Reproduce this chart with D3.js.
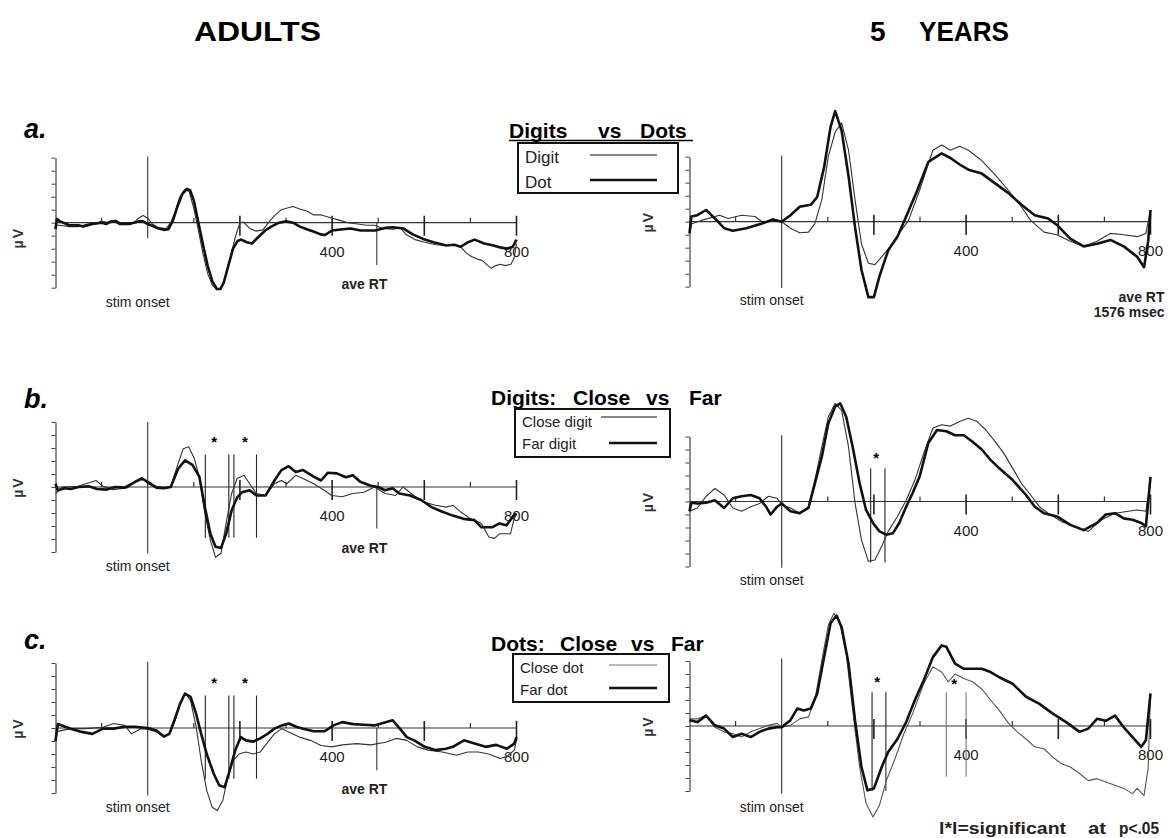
<!DOCTYPE html>
<html>
<head>
<meta charset="utf-8">
<script src="https://cdn.jsdelivr.net/npm/d3@7"></script>
<style>
  body { margin: 0; background: #fff; }
  svg { display: block; font-family: "Liberation Sans", Arial, Helvetica, sans-serif; }
</style>
</head>
<body>
<svg id="chart" width="1176" height="838"></svg>
<script>
// ERP waveforms, [ms, microvolt-ticks]
var adultDigit = [[-200,-0.2],[-190,-0.2],[-170,-0.3],[-150,-0.3],[-130,-0.1],[-110,0.0],[-100,0.1],[-80,0.0],[-70,0.2],[-60,0.0],[-45,-0.1],[-30,0.0],[-20,0.35],[-10,0.55],[0,0.35],[10,-0.1],[25,-0.4],[40,-0.45],[50,0.0],[60,0.9],[70,2.0],[80,2.55],[90,2.4],[100,1.1],[110,-0.6],[120,-2.4],[130,-3.9],[140,-4.8],[150,-5.15],[160,-5.0],[170,-4.0],[180,-2.6],[190,-1.1],[200,0.0],[208,0.05],[220,-0.4],[235,-0.65],[250,-0.55],[262,0.0],[275,0.55],[290,1.0],[305,1.15],[315,1.25],[330,1.05],[345,0.9],[360,0.6],[377,0.6],[395,0.4],[415,0.2],[435,0.0],[455,-0.1],[475,-0.2],[493,-0.2],[510,-0.45],[532,-0.5],[548,-0.4],[560,-0.9],[580,-1.3],[601,-1.5],[625,-1.7],[648,-1.75],[665,-1.7],[680,-1.9],[690,-2.3],[702,-2.6],[715,-2.8],[725,-2.9],[735,-3.2],[745,-3.5],[755,-3.3],[765,-3.2],[775,-3.3],[788,-3.2],[795,-2.7],[800,-1.6]];
var adultDot = [[-200,-0.5],[-197,0.3],[-190,0.1],[-170,-0.2],[-150,-0.2],[-140,-0.3],[-120,-0.1],[-100,0.0],[-90,-0.1],[-80,0.1],[-70,0.1],[-60,-0.1],[-40,-0.1],[-20,0.1],[-10,0.1],[0,-0.1],[20,-0.4],[35,-0.55],[45,-0.5],[55,0.2],[65,1.3],[75,2.2],[85,2.6],[92,2.5],[100,1.7],[110,0.0],[120,-1.7],[130,-3.3],[140,-4.5],[150,-5.1],[158,-5.1],[165,-4.6],[175,-3.3],[185,-2.0],[195,-1.4],[203,-1.3],[215,-1.5],[226,-1.6],[240,-1.1],[255,-0.6],[268,-0.3],[285,0.0],[300,0.1],[315,0.0],[330,-0.3],[345,-0.5],[361,-0.7],[375,-0.9],[384,-0.95],[400,-0.6],[423,-0.5],[440,-0.45],[462,-0.6],[493,-0.6],[515,-0.4],[532,-0.35],[555,-0.45],[575,-0.9],[601,-1.3],[620,-1.5],[648,-1.75],[665,-1.7],[679,-1.85],[695,-1.5],[709,-1.3],[730,-1.6],[750,-1.75],[765,-1.9],[780,-2.0],[792,-1.85],[800,-1.3]];
var childDigit = [[-200,-0.9],[-195,-0.15],[-174,0.1],[-135,0.5],[-116,0.25],[-87,0.5],[-58,0.4],[-39,-0.1],[-19,0.25],[0,0.0],[19,-0.5],[39,-0.85],[58,-0.8],[72,-0.15],[87,1.7],[101,5.0],[116,6.9],[130,7.6],[145,5.5],[159,1.7],[173,-1.7],[188,-3.2],[202,-3.3],[217,-2.7],[236,-1.9],[255,-0.9],[275,0.1],[299,2.4],[328,5.5],[347,5.9],[366,5.5],[386,5.8],[405,5.5],[434,4.7],[463,3.6],[492,2.4],[520,1.15],[540,0.1],[569,-0.8],[597,-1.0],[626,-1.5],[655,-1.9],[684,-1.5],[713,-0.9],[742,-1.0],[771,-1.15],[790,-0.9],[800,0.9]];
var childDot = [[-200,-0.9],[-196,0.4],[-183,0.5],[-164,0.9],[-145,0.25],[-125,-0.5],[-106,-0.7],[-77,-0.5],[-48,-0.2],[-19,0.15],[0,0.0],[19,0.5],[39,1.15],[63,1.3],[77,1.9],[92,4.2],[106,7.3],[116,8.5],[130,7.0],[145,3.5],[159,-0.4],[173,-3.7],[188,-5.8],[200,-5.8],[212,-4.2],[231,-2.2],[251,-1.15],[270,0.4],[294,2.4],[318,4.6],[347,5.25],[366,4.9],[386,4.4],[405,4.0],[434,3.7],[463,2.95],[492,2.2],[520,1.3],[549,0.5],[578,0.25],[597,-0.25],[626,-1.3],[655,-1.9],[684,-1.7],[713,-1.4],[742,-1.9],[771,-2.7],[786,-3.5],[795,-1.5],[800,0.9]];

var adultCloseDigit = [[-200,-0.5],[-185,0.0],[-151,0.05],[-112,0.5],[-97,0.05],[-74,-0.2],[-43,-0.05],[-23,0.5],[-12,0.75],[0,0.25],[19,0.05],[35,-0.05],[50,0.05],[66,1.8],[77,2.95],[89,3.1],[101,2.2],[112,0.75],[124,-2.05],[136,-4.1],[147,-5.4],[159,-5.1],[170,-2.8],[182,-0.5],[194,0.65],[209,0.9],[221,0.25],[236,-0.5],[256,-0.65],[275,0.25],[290,0.5],[302,0.25],[321,0.9],[337,0.65],[360,0.25],[383,-0.25],[399,-0.65],[422,-0.75],[445,-0.5],[469,-0.4],[492,0.0],[515,-0.5],[538,-0.65],[554,0.0],[577,-0.65],[600,-1.15],[624,-1.4],[647,-1.55],[662,-1.4],[678,-1.9],[701,-2.45],[724,-2.8],[740,-3.85],[752,-3.95],[763,-3.6],[787,-3.6],[794,-2.55],[800,-2.05]];
var adultFarDigit = [[-200,0.25],[-195,-0.25],[-180,-0.1],[-167,-0.15],[-150,0.0],[-128,0.05],[-110,-0.15],[-89,-0.2],[-70,0.0],[-50,-0.05],[-27,0.4],[-12,0.65],[0,0.4],[19,-0.05],[35,-0.1],[50,0.0],[66,1.4],[81,2.05],[97,1.7],[112,0.8],[124,-1.55],[136,-3.6],[147,-4.6],[159,-4.7],[170,-3.6],[182,-1.8],[194,-0.8],[205,-0.4],[221,-0.25],[236,-0.65],[256,-0.65],[275,0.5],[290,1.3],[306,1.6],[321,1.15],[337,1.3],[360,0.8],[376,0.5],[391,1.1],[410,1.05],[430,0.75],[445,0.9],[461,0.4],[484,0.1],[500,0.0],[515,-0.25],[531,-0.1],[546,-0.5],[569,-0.65],[593,-1.0],[616,-1.55],[639,-1.9],[662,-2.2],[685,-2.45],[709,-2.55],[724,-3.1],[747,-3.1],[763,-2.8],[778,-2.95],[794,-2.2],[800,-2.05]];
var childCloseDigit = [[-200,-0.75],[-183,-0.5],[-164,0.4],[-145,1.0],[-125,0.5],[-106,-0.5],[-87,-0.75],[-67,-0.4],[-48,-0.15],[-29,0.4],[-10,0.25],[0,-0.25],[19,-0.5],[39,-0.9],[58,-0.4],[72,1.65],[87,4.2],[101,6.5],[116,7.55],[130,7.0],[145,4.2],[159,-0.1],[173,-2.95],[188,-4.6],[202,-4.5],[217,-3.45],[231,-2.3],[251,-1.15],[270,0.1],[289,1.65],[308,3.7],[328,5.65],[347,5.9],[366,5.8],[386,6.15],[405,6.4],[424,6.15],[443,5.5],[463,4.6],[482,3.7],[501,2.55],[520,1.4],[540,0.5],[559,-0.4],[578,-0.9],[607,-1.55],[636,-1.9],[665,-2.3],[694,-1.4],[723,-0.9],[752,-0.75],[771,-0.65],[790,-0.75],[800,1.4]];
var childFarDigit = [[-200,-0.75],[-196,-0.1],[-183,-0.15],[-164,-0.1],[-145,0.1],[-125,-0.5],[-106,0.25],[-87,0.4],[-67,0.5],[-48,0.25],[-34,-0.4],[-24,-1.0],[-10,-0.4],[0,-0.15],[19,-0.75],[39,-0.9],[58,-0.5],[72,1.4],[87,3.45],[101,6.0],[116,7.3],[127,7.55],[140,6.5],[154,4.2],[169,1.4],[183,-0.65],[198,-1.65],[212,-2.3],[227,-2.55],[241,-2.45],[255,-1.65],[270,-0.4],[284,0.65],[299,1.9],[318,4.5],[337,5.5],[357,5.4],[376,5.1],[395,5.1],[414,4.6],[434,4.0],[453,3.2],[472,2.55],[501,1.65],[530,0.5],[549,-0.4],[569,-0.9],[597,-1.15],[626,-1.8],[655,-2.2],[684,-1.65],[703,-1.0],[723,-0.9],[742,-1.3],[761,-1.4],[780,-1.65],[790,-1.9],[800,1.9]];

var adultCloseDot = [[-200,-0.3],[-167,-0.05],[-136,-0.05],[-97,0.05],[-74,0.35],[-50,0.2],[-35,-0.45],[-15,-0.05],[0,-0.1],[19,-0.3],[35,-0.7],[47,-0.45],[58,0.45],[70,1.75],[81,2.7],[93,2.1],[105,0.1],[116,-2.5],[128,-4.8],[140,-6.1],[151,-6.35],[163,-5.55],[174,-3.75],[186,-2.5],[198,-2.0],[213,-1.85],[229,-2.0],[244,-1.85],[260,-1.1],[275,-0.45],[291,-0.05],[306,-0.3],[329,-0.7],[353,-0.95],[376,-1.35],[399,-1.45],[422,-1.3],[453,-1.2],[484,-1.3],[516,-1.1],[539,-0.8],[562,-0.95],[585,-1.45],[608,-1.7],[639,-1.85],[670,-2.1],[694,-1.85],[717,-1.85],[740,-2.0],[764,-2.35],[779,-2.2],[795,-1.7],[800,-0.95]];
var adultFarDot = [[-200,-1.0],[-195,0.3],[-167,-0.05],[-143,-0.3],[-120,-0.45],[-97,-0.05],[-74,-0.05],[-50,0.1],[-27,0.1],[0,0.0],[19,-0.2],[35,-0.65],[47,-0.45],[58,0.6],[70,1.85],[81,2.65],[93,2.4],[105,1.1],[116,-0.45],[128,-2.0],[143,-3.5],[155,-4.4],[167,-4.55],[178,-3.25],[190,-1.7],[202,-0.7],[213,-0.95],[229,-1.05],[244,-0.8],[260,-0.45],[275,-0.05],[291,0.2],[306,0.35],[322,0.1],[337,-0.05],[360,-0.25],[384,-0.25],[403,0.2],[422,0.45],[446,0.3],[469,0.25],[492,0.2],[516,0.45],[531,0.6],[547,-0.05],[562,-0.7],[578,-0.95],[601,-1.45],[624,-1.7],[647,-1.6],[662,-1.45],[686,-0.95],[709,-1.2],[733,-1.45],[756,-1.3],[779,-1.6],[795,-1.2],[800,-0.7]];
var childCloseDot = [[-200,0.55],[-183,0.55],[-164,0.8],[-145,-0.1],[-125,-0.45],[-106,-0.6],[-87,-0.85],[-67,-0.45],[-48,-0.2],[-29,0.05],[-10,0.2],[0,-0.1],[19,0.05],[39,0.55],[58,0.7],[72,2.0],[87,5.05],[101,7.75],[113,8.65],[125,8.1],[140,5.55],[154,1.2],[169,-3.15],[183,-5.95],[198,-7.0],[212,-6.1],[227,-4.2],[246,-2.5],[265,-0.6],[284,0.95],[308,3.25],[328,4.55],[347,4.15],[361,3.4],[376,4.0],[395,3.65],[414,3.4],[434,2.85],[453,2.0],[472,1.2],[492,0.2],[511,-0.45],[530,-1.0],[549,-1.6],[569,-1.75],[588,-2.4],[607,-2.9],[626,-3.15],[646,-3.65],[665,-4.2],[684,-4.05],[703,-4.3],[723,-4.55],[742,-4.8],[761,-5.2],[771,-4.8],[786,-5.35],[795,-3.2],[800,2.5]];
var childFarDot = [[-200,0.45],[-183,0.3],[-164,0.8],[-145,0.05],[-125,-0.2],[-106,-0.85],[-87,-0.6],[-67,-0.85],[-48,-0.45],[-29,-0.2],[-10,-0.1],[0,-0.1],[19,0.45],[34,1.35],[48,1.2],[63,1.35],[77,2.5],[92,5.3],[106,7.9],[119,8.5],[130,7.6],[145,4.8],[159,0.45],[173,-3.15],[186,-4.95],[200,-4.8],[217,-3.15],[231,-2.0],[251,-1.0],[270,0.3],[289,2.0],[308,3.5],[328,5.3],[347,6.2],[357,6.1],[376,4.8],[395,4.4],[414,4.4],[434,4.4],[453,4.15],[472,3.75],[501,3.25],[530,2.25],[559,1.7],[588,0.95],[617,0.3],[646,-0.45],[665,-0.2],[684,0.55],[703,0.4],[723,0.8],[742,-0.1],[761,-0.85],[780,-1.6],[790,-1.1],[800,2.5]];

// axis ticks and labels
var yTicks = [-5, -4, -3, -2, -1, 0, 1, 2, 3, 4, 5];
var majorTicks = [200, 400, 600, 800];
var minorTicks = [-100, 100, 300, 500, 700];
var xLabels = [400, 800];
var aveRTms = 497;

// significance windows (ms) and stars [ms, uV]
var adultSig = [125, 176, 187, 236];
var adultStars = [[144, 3.6], [211, 3.6]];
var childDigitSig = [193, 224];
var childDigitStars = [[205, 3.5]];
var childDotSig = [196, 226, 357, 400];
var childDotStars = [[207, 3.55], [374, 3.4]];

var svg = d3.select("#chart");
var plotW = 461, unit = 13;
var x = d3.scaleLinear().domain([-200, 800]).range([0, plotW]);
var y = d3.scaleLinear().domain([-5, 5]).range([5 * unit, -5 * unit]);
var line = d3.line().x(d => x(d[0])).y(d => y(d[1]));

var panels = [
  {x0: 55.5, y0: 222.7, thin: adultDigit, thick: adultDot, onset: [5.1, -1.2], adult: true, uvDy: 15, aveLine: -3.25},
  {x0: 689.5, y0: 221.7, thin: childDigit, thick: childDot, onset: [5.1, -5.1], adult: false, uvDy: 0, rtText: true},
  {x0: 55.5, y0: 487, thin: adultCloseDigit, thick: adultFarDigit, onset: [5.0, -5.1], adult: true, uvDy: 0, aveLine: -3.2,
   sig: adultSig, sigSpan: [2.5, -3.9], stars: adultStars},
  {x0: 689.5, y0: 501.5, thin: childCloseDigit, thick: childFarDigit, onset: [5.1, -5.1], adult: false, uvDy: 0,
   sig: childDigitSig, sigSpan: [2.55, -4.7], stars: childDigitStars},
  {x0: 55.5, y0: 728, thin: adultCloseDot, thick: adultFarDot, onset: [5.1, -5.2], adult: true, uvDy: 0, aveLine: -3.25,
   sig: adultSig, sigSpan: [2.5, -3.9], stars: adultStars},
  {x0: 689.5, y0: 726, thin: childCloseDot, thick: childFarDot, onset: [5.2, -5.2], adult: false, uvDy: 0,
   sig: childDotSig, sigSpan: [2.6, -5.0], sigSpan2: [2.6, -3.9], stars: childDotStars, thinColor: "#555"}
];

panels.forEach(drawPanel);

function drawPanel(p) {
  var g = svg.append("g").attr("transform", `translate(${p.x0},${p.y0})`);

  // y axis
  var ya = g.append("g").call(d3.axisLeft(y).tickValues(yTicks).tickSize(4).tickSizeOuter(0).tickFormat(""));
  ya.select(".domain").attr("stroke", "#444").attr("stroke-width", 1.2);
  ya.selectAll(".tick line").attr("stroke", "#444");

  // zero line
  g.append("line").attr("x1", x(-200)).attr("x2", x(800)).attr("y1", y(0)).attr("y2", y(0))
    .attr("stroke", "#333").attr("stroke-width", 1.2);

  g.selectAll(".minor").data(minorTicks).enter().append("line")
    .attr("x1", d => x(d)).attr("x2", d => x(d)).attr("y1", -5).attr("y2", 0)
    .attr("stroke", "#333").attr("stroke-width", 1.2);
  g.selectAll(".major").data(majorTicks).enter().append("line")
    .attr("x1", d => x(d)).attr("x2", d => x(d)).attr("y1", -7).attr("y2", 13)
    .attr("stroke", "#222").attr("stroke-width", 1.6);
  g.selectAll(".xlab").data(xLabels).enter().append("text")
    .attr("x", d => x(d)).attr("y", 34).attr("text-anchor", "middle")
    .attr("font-size", 15).attr("fill", "#222").text(d => d);

  // stim onset
  g.append("line").attr("x1", x(0)).attr("x2", x(0)).attr("y1", y(p.onset[0])).attr("y2", y(p.onset[1]))
    .attr("stroke", "#333").attr("stroke-width", 1.1);
  g.append("text").attr("x", x(0) - 10).attr("y", p.adult ? 84 : (p.sigSpan2 ? 86 : 83))
    .attr("text-anchor", "middle").attr("font-size", 14).attr("fill", "#222").text("stim onset");

  // μV label
  g.append("text").attr("transform", `translate(${p.adult ? -37 : -41},${p.uvDy}) rotate(-90)`)
    .attr("text-anchor", "middle").attr("dy", "0.35em").attr("font-size", 14).attr("font-weight", "bold")
    .attr("letter-spacing", 2).attr("fill", "#333").text("µV");

  if (p.adult) {
    g.append("line").attr("x1", x(aveRTms)).attr("x2", x(aveRTms)).attr("y1", y(0)).attr("y2", y(p.aveLine))
      .attr("stroke", "#333").attr("stroke-width", 1.1);
    g.append("text").attr("x", x(470)).attr("y", 66).attr("text-anchor", "middle")
      .attr("font-size", 14).attr("font-weight", "bold").attr("fill", "#222").text("ave RT");
  }
  if (p.rtText) {
    g.append("text").attr("x", plotW + 14).attr("y", 80).attr("text-anchor", "end")
      .attr("font-size", 14).attr("font-weight", "bold").attr("fill", "#222").text("ave RT");
    g.append("text").attr("x", plotW + 14).attr("y", 95).attr("text-anchor", "end")
      .attr("font-size", 14).attr("font-weight", "bold").attr("fill", "#222").text("1576 msec");
  }

  // significance windows
  if (p.sig) {
    g.selectAll(".sig").data(p.sig).enter().append("line")
      .attr("x1", d => x(d)).attr("x2", d => x(d))
      .attr("y1", (d, i) => y((p.sigSpan2 && i > 1 ? p.sigSpan2 : p.sigSpan)[0]))
      .attr("y2", (d, i) => y((p.sigSpan2 && i > 1 ? p.sigSpan2 : p.sigSpan)[1]))
      .attr("stroke", (d, i) => p.sigSpan2 && i > 1 ? "#777" : "#222").attr("stroke-width", 1.1);
    g.selectAll(".star").data(p.stars).enter().append("text")
      .attr("x", d => x(d[0])).attr("y", d => y(d[1]) + 7).attr("text-anchor", "middle")
      .attr("font-size", 15).attr("font-weight", "bold").text("*");
  }

  // waveforms
  g.append("path").datum(p.thin).attr("d", line).attr("fill", "none")
    .attr("stroke", p.thinColor || "#333").attr("stroke-width", 1.1).attr("stroke-linejoin", "round");
  g.append("path").datum(p.thick).attr("d", line).attr("fill", "none")
    .attr("stroke", "#111").attr("stroke-width", 2.6).attr("stroke-linejoin", "round");
}

// column titles
svg.append("text").attr("x", 194).attr("y", 41).attr("font-size", 28).attr("font-weight", "bold")
  .attr("textLength", 127).attr("lengthAdjust", "spacingAndGlyphs").text("ADULTS");
svg.append("text").attr("x", 870).attr("y", 41).attr("font-size", 28).attr("font-weight", "bold").text("5");
svg.append("text").attr("x", 919).attr("y", 41).attr("font-size", 28).attr("font-weight", "bold")
  .attr("textLength", 90).attr("lengthAdjust", "spacingAndGlyphs").text("YEARS");

// panel letters
[["a.", 138], ["b.", 408], ["c.", 649]].forEach(function (d) {
  svg.append("text").attr("x", 24).attr("y", d[1]).attr("font-size", 27).attr("font-weight", "bold")
    .attr("font-style", "italic").text(d[0]);
});

// legends
var legends = [
  {title: [["Digits", 509], ["vs", 598], ["Dots", 640]], ty: 138, underline: [509, 693, 140.5],
   box: [518, 143, 160, 50],
   items: [{label: "Digit", ly: 163, x1: 590, x2: 657, y: 155, thick: false},
           {label: "Dot", ly: 188, x1: 590, x2: 657, y: 180, thick: true}], fs: 17},
  {title: [["Digits:", 491], ["Close", 573], ["vs", 646], ["Far", 689]], ty: 405,
   box: [515, 409, 155, 48],
   items: [{label: "Close digit", ly: 427, x1: 601, x2: 657, y: 417, thick: false},
           {label: "Far digit", ly: 449, x1: 609, x2: 657, y: 443, thick: true}], fs: 15},
  {title: [["Dots:", 491], ["Close", 560], ["vs", 631], ["Far", 671]], ty: 651,
   box: [513, 654, 156, 48],
   items: [{label: "Close dot", ly: 673, x1: 609, x2: 657, y: 665, thick: false, color: "#777"},
           {label: "Far dot", ly: 695, x1: 609, x2: 657, y: 688, thick: true}], fs: 15}
];

legends.forEach(function (L) {
  var g = svg.append("g");
  L.title.forEach(function (w) {
    g.append("text").attr("x", w[1]).attr("y", L.ty).attr("font-size", 21).attr("font-weight", "bold").text(w[0]);
  });
  if (L.underline) {
    g.append("line").attr("x1", L.underline[0]).attr("x2", L.underline[1])
      .attr("y1", L.underline[2]).attr("y2", L.underline[2]).attr("stroke", "#000").attr("stroke-width", 1.5);
  }
  g.append("rect").attr("x", L.box[0]).attr("y", L.box[1]).attr("width", L.box[2]).attr("height", L.box[3])
    .attr("fill", "#fff").attr("stroke", "#111").attr("stroke-width", 2);
  L.items.forEach(function (it) {
    g.append("text").attr("x", L.box[0] + 7).attr("y", it.ly).attr("font-size", L.fs).attr("fill", "#222").text(it.label);
    g.append("line").attr("x1", it.x1).attr("x2", it.x2).attr("y1", it.y).attr("y2", it.y)
      .attr("stroke", it.color || "#111").attr("stroke-width", it.thick ? 2.6 : 1.1);
  });
});

// footnote
[["l*l=significant", 939, 127], ["at", 1088, 18], ["p<.05", 1119, 40]].forEach(function (w) {
  svg.append("text").attr("x", w[1]).attr("y", 834).attr("font-size", 16).attr("font-weight", "bold")
    .attr("textLength", w[2]).attr("lengthAdjust", "spacingAndGlyphs")
    .attr("fill", "#222").text(w[0]);
});
</script>
</body>
</html>
